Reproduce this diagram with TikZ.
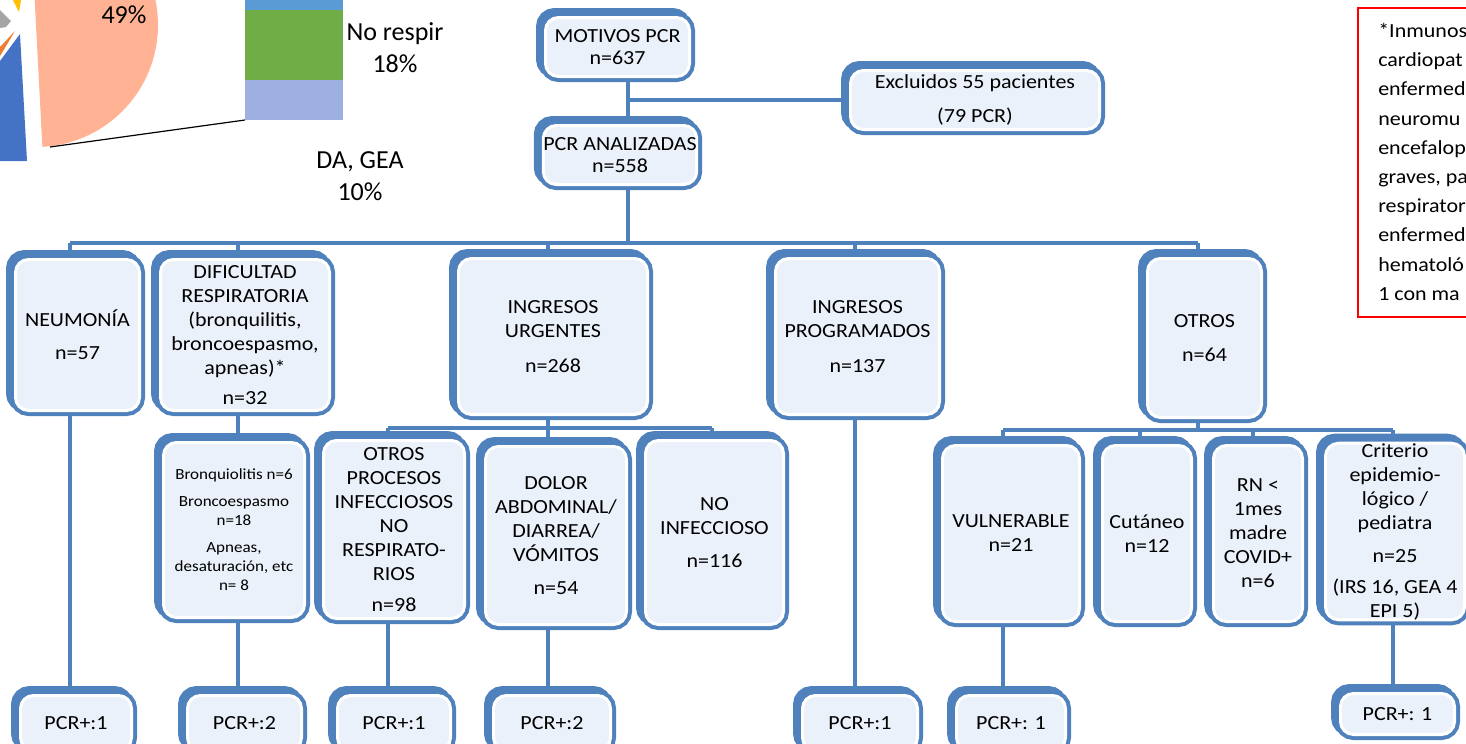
\documentclass[tikz,border=0pt]{standalone}
\usepackage{fontspec}
\setmainfont{Carlito}[FakeStretch=1.1]
\newfontfamily\lblfont{Carlito}
\usetikzlibrary{backgrounds}
\definecolor{bblue}{RGB}{79,129,189}
\definecolor{boxfill}{RGB}{235,241,250}
\definecolor{salmon}{RGB}{255,179,148}
\definecolor{pieblue}{RGB}{68,114,196}
\definecolor{pieorange}{RGB}{237,125,49}
\definecolor{piegray}{RGB}{165,165,165}
\definecolor{pieyellow}{RGB}{255,192,0}
\definecolor{barblue}{RGB}{91,155,213}
\definecolor{bargreen}{RGB}{112,173,71}
\definecolor{barlav}{RGB}{158,176,224}
\def\pxu{0.75pt}
\newcommand\mkbox[7][]{\node[bx,minimum width={(#5-#3-11)*\pxu},minimum height={(#6-#4-11)*\pxu},#1] (#2) at ({(#3+#5)/2},{(#4+#6)/2}) {#7};}
\begin{document}
\begin{tikzpicture}[x=0.75pt,y=-0.75pt,
 bx/.style={rounded corners=13*\pxu, draw=white, line width=3*\pxu, fill=boxfill, inner sep=0pt, align=center,
   font=\fontsize{15pt}{18pt}\selectfont, text=black,
   preaction={fill=bblue, draw=bblue, line width=11*\pxu, transform canvas={xshift=-4*\pxu, yshift=4*\pxu}},
   preaction={draw=bblue, line width=11*\pxu}},
 smalltxt/.style={font=\fontsize{11.6pt}{14.3pt}\selectfont},
 conn/.style={draw=bblue, line width=4*\pxu},
 lbl/.style={font=\lblfont\fontsize{19.5pt}{24pt}\selectfont, align=center, inner sep=0pt}]
\useasboundingbox (0,0) rectangle (1466,743);
\begin{pgfonlayer}{background}
\fill[white] (0,0) rectangle (1466,743);
\end{pgfonlayer}
\clip (0,0) rectangle (1466,743);
% pie of pie
\fill[salmon] (36,25) -- ++(-93:122) arc[start angle=-93, end angle=87, radius=122] -- cycle;
\fill[pieblue] (20,34) -- (27,161) -- (0,161) -- (0,61) -- cycle;
\fill[pieorange] (15,31) -- (0,47) -- (0,56) -- cycle;
\fill[piegray] (0,10) -- (11,21) -- (6,27) -- (0,28) -- cycle;
\fill[pieyellow] (13,0) -- (21,0) -- (19,12) -- cycle;
\fill[barblue] (245,0) rectangle (343,10);
\fill[bargreen] (245,10) rectangle (343,80);
\fill[barlav] (245,80) rectangle (343,120);
\draw[black, line width=1.2*\pxu] (50,147) -- (245,120);
\node[lbl] (l49) at (124,15) {49\%};
\node[lbl] (lno) at (395,48) {No respir\\18\%};
\node[lbl] (lda) at (360,176) {DA, GEA\\10\%};
% boxes
\mkbox{mot}{540}{12}{695}{82}{MOTIVOS PCR\\[-1.5pt]n=637}
\mkbox{ana}{543}{120}{697}{190}{PCR ANALIZADAS\\[-1.5pt]n=558}
\mkbox{exc}{845}{65}{1105}{135}{Excluidos 55 pacientes\\[7pt](79 PCR)}
\mkbox{neu}{10}{254}{145}{416}{NEUMONÍA\\[7pt]n=57}
\mkbox{dif}{155}{254}{335}{416}{DIFICULTAD\\RESPIRATORIA\\(bronquilitis,\\broncoespasmo,\\apneas)*\\[4pt]n=32}
\mkbox{urg}{453}{253}{653}{420}{INGRESOS\\URGENTES\\[8pt]n=268}
\mkbox{prog}{770}{253}{945}{420}{INGRESOS\\PROGRAMADOS\\[8pt]n=137}
\mkbox{otr}{1142}{253}{1267}{423}{OTROS\\[8pt]n=64}
\mkbox[smalltxt]{bron}{158}{437}{310}{623}{Bronquiolitis n=6\\[6pt]Broncoespasmo\\n=18\\[6pt]Apneas,\\desaturación, etc\\n= 8}
\mkbox{opr}{318}{435}{470}{624}{OTROS\\PROCESOS\\INFECCIOSOS\\NO\\RESPIRATO-\\RIOS\\[5pt]n=98}
\mkbox{dol}{480}{441}{632}{630}{DOLOR\\ABDOMINAL/\\DIARREA/\\VÓMITOS\\[7pt]n=54}
\mkbox{noi}{640}{435}{789}{630}{NO\\INFECCIOSO\\[7pt]n=116}
\mkbox{vul}{937}{440}{1085}{627}{VULNERABLE\\n=21}
\mkbox{cut}{1097}{440}{1197}{627}{Cutáneo\\n=12}
\mkbox{rn}{1208}{440}{1308}{627}{RN <\\1mes\\madre\\COVID+\\n=6}
\mkbox{cri}{1320}{440}{1470}{623}{Criterio\\epidemio-\\lógico /\\pediatra\\[7pt]n=25\\[5pt](IRS 16, GEA 4\\EPI 5)}
\mkbox{p1}{15}{690}{137}{756}{PCR+:1}
\mkbox{p2}{182}{690}{307}{756}{PCR+:2}
\mkbox{p3}{332}{690}{456}{756}{PCR+:1}
\mkbox{p4}{488}{690}{616}{756}{PCR+:2}
\mkbox{p5}{797}{690}{923}{756}{PCR+:1}
\mkbox{p6}{951}{690}{1071}{756}{PCR+: 1}
\mkbox{p7}{1335}{688}{1460}{740}{PCR+: 1}
% note box
\node[draw=red, line width=2*\pxu, inner sep=0pt, anchor=north west, minimum width=130*\pxu, minimum height=309*\pxu] (nota) at (1357,7) {};
\node[anchor=north west, inner sep=0pt, align=left, font=\fontsize{15pt}{21.9pt}\selectfont] (notatxt) at (1378,23)
 {*Inmunos\\cardiopat\\enfermed\\neuromu\\encefalop\\graves, pa\\respirator\\enfermed\\hematoló\\1 con ma};
% connectors
\begin{pgfonlayer}{background}
\coordinate (xa) at (628,0);
\draw[conn] (mot.south -| xa) -- (ana.north -| xa);
\draw[conn] (xa |- exc.west) -- (exc.west);
\coordinate (b1l) at (70,243);
\coordinate (b1r) at (1198,243);
\coordinate (x238) at (238,243);
\coordinate (x548) at (548,243);
\coordinate (x855) at (855,243);
\draw[conn] (ana.south -| xa) -- (xa |- b1l);
\draw[conn] (b1l) -- (b1r);
\draw[conn] (b1l) -- (neu.north -| b1l);
\draw[conn] (x238) -- (dif.north -| x238);
\draw[conn] (x548) -- (urg.north -| x548);
\draw[conn] (x855) -- (prog.north -| x855);
\draw[conn] (b1r) -- (otr.north -| b1r);
\draw[conn] (dif.south -| x238) -- (bron.north -| x238);
\coordinate (b2l) at (388,428);
\coordinate (b2r) at (712,428);
\draw[conn] (urg.south -| x548) -- (x548 |- b2l);
\draw[conn] (b2l) -- (b2r);
\draw[conn] (b2l) -- (opr.north -| b2l);
\draw[conn] (x548 |- b2l) -- (dol.north -| x548);
\draw[conn] (b2r) -- (noi.north -| b2r);
\coordinate (b3l) at (1003,430);
\coordinate (b3r) at (1393,430);
\coordinate (x1140) at (1140,430);
\coordinate (x1253) at (1253,430);
\draw[conn] (otr.south -| b1r) -- (b1r |- b3l);
\draw[conn] (b3l) -- (b3r);
\draw[conn] (b3l) -- (vul.north -| b3l);
\draw[conn] (x1140) -- (cut.north -| x1140);
\draw[conn] (x1253) -- (rn.north -| x1253);
\draw[conn] (b3r) -- (cri.north -| b3r);
\draw[conn] (neu.south -| b1l) -- (p1.north -| b1l);
\draw[conn] (bron.south -| x238) -- (p2.north -| x238);
\draw[conn] (opr.south -| b2l) -- (p3.north -| b2l);
\draw[conn] (dol.south -| x548) -- (p4.north -| x548);
\draw[conn] (prog.south -| x855) -- (p5.north -| x855);
\draw[conn] (vul.south -| b3l) -- (p6.north -| b3l);
\draw[conn] (cri.south -| b3r) -- (p7.north -| b3r);
\end{pgfonlayer}
\end{tikzpicture}
\end{document}
